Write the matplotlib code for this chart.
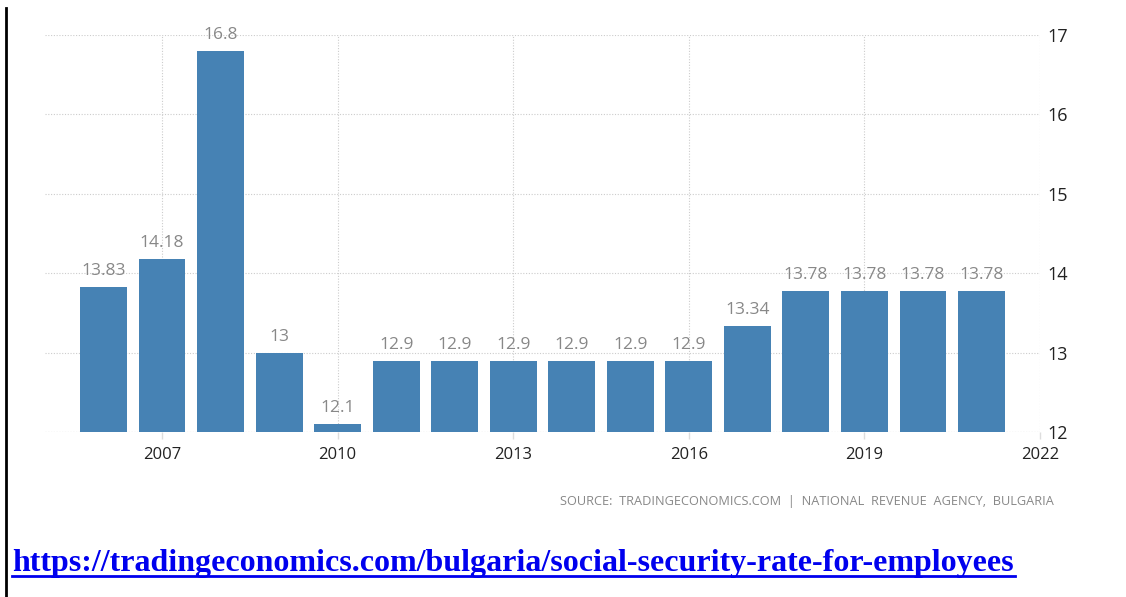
import matplotlib
matplotlib.use("Agg")
import matplotlib.pyplot as plt
from matplotlib.lines import Line2D

years = [2006, 2007, 2008, 2009, 2010, 2011, 2012, 2013, 2014, 2015, 2016, 2017, 2018, 2019, 2020, 2021]
values = [13.83, 14.18, 16.8, 13, 12.1, 12.9, 12.9, 12.9, 12.9, 12.9, 12.9, 13.34, 13.78, 13.78, 13.78, 13.78]
labels = ["13.83", "14.18", "16.8", "13", "12.1", "12.9", "12.9", "12.9", "12.9", "12.9", "12.9", "13.34", "13.78", "13.78", "13.78", "13.78"]
xticks = [2007, 2010, 2013, 2016, 2019, 2022]
yticks = [12, 13, 14, 15, 16, 17]
source = "SOURCE:  TRADINGECONOMICS.COM  |  NATIONAL  REVENUE  AGENCY,  BULGARIA"
url = "https://tradingeconomics.com/bulgaria/social-security-rate-for-employees"

plt.rcParams['font.family'] = ['Open Sans', 'DejaVu Sans']

W, H = 1126, 597
fig = plt.figure(figsize=(W / 100, H / 100), dpi=100)
ax = fig.add_axes([45 / W, 1 - 432 / H, (1040 - 45) / W, (432 - 35) / H])

ax.bar(years, [v - 12 for v in values], bottom=12, width=0.8, color="#4682b4", zorder=3)
for x, v, t in zip(years, values, labels):
    ax.text(x, v + 0.1, t, ha="center", va="bottom", fontsize=12.5, color="#888888", zorder=4)

ax.set_xlim(2005, 2022)
ax.set_ylim(12, 17)
ax.set_xticks(xticks)
ax.set_yticks(yticks)
ax.yaxis.tick_right()
ax.tick_params(axis="y", length=0, pad=5, labelsize=13, labelcolor="#222222")
ax.tick_params(axis="x", length=5, width=1, color="#dddddd", pad=6, labelsize=12, labelcolor="#222222")
for s in ["top", "left", "right", "bottom"]:
    ax.spines[s].set_visible(False)
ax.grid(True, axis="both", linestyle=(0, (1, 1.5)), color="#cccccc", linewidth=0.8, zorder=0)
ax.axhline(12, linestyle=(0, (1, 1.5)), color="#cccccc", linewidth=0.8, zorder=1)
ax.set_axisbelow(True)

fig.text(1054 / W, 1 - 501 / H, source, ha="right", va="center", fontsize=9.2, color="#888888")

fig.text(12 / W, 1 - 563 / H, url, ha="left", va="center", fontsize=23.0, fontweight="bold",
         family=["Liberation Serif", "DejaVu Serif"], color="#0000ee")
fig.add_artist(Line2D([12 / W, 1015 / W], [1 - 576 / H, 1 - 576 / H], color="#0000ee", linewidth=2))

fig.add_artist(Line2D([6 / W, 6 / W], [0, 1 - 8 / H], color="black", linewidth=2))

fig.savefig("out.png", dpi=100)
